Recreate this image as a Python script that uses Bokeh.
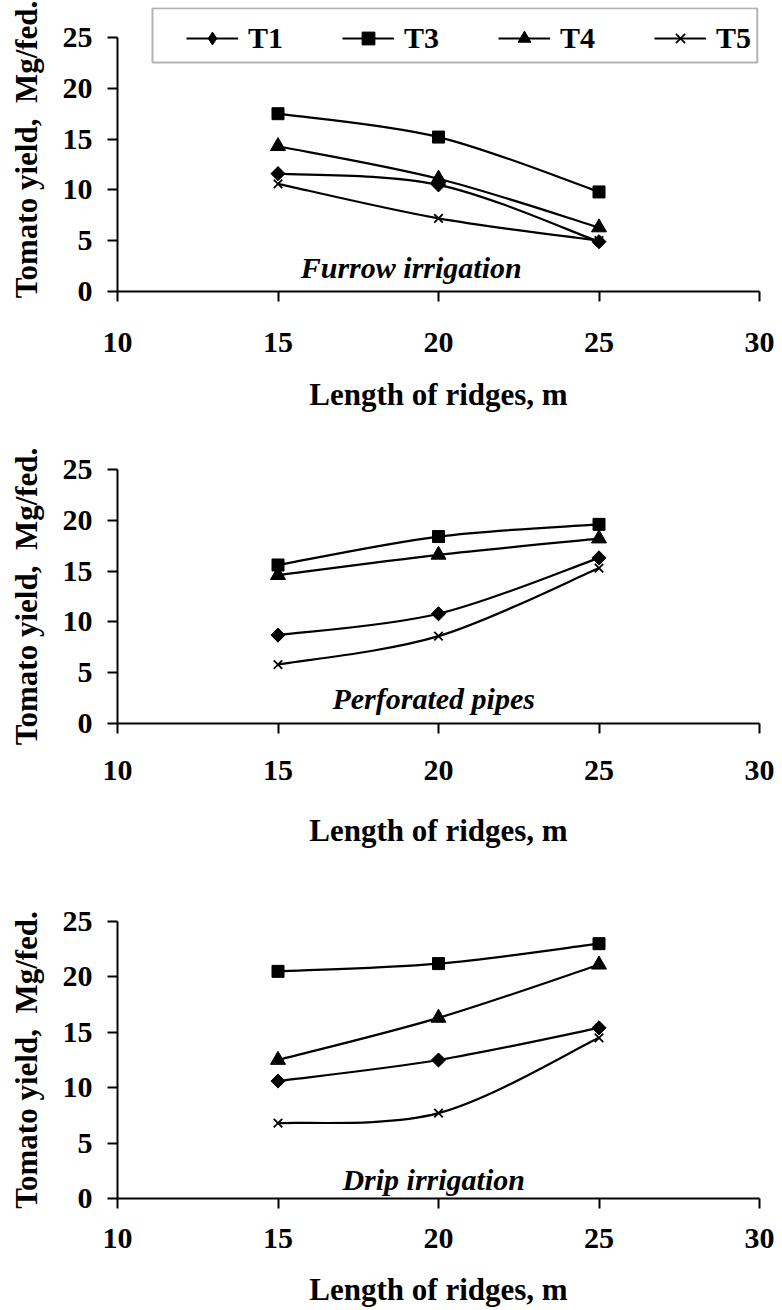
from bokeh.plotting import figure
from bokeh.models import Range1d, Legend, LegendItem, Label, ColumnDataSource, BoxAnnotation
from bokeh.layouts import column
from bokeh.embed import file_html
from bokeh.resources import INLINE
import math

# ---------------- data ----------------
lengths = [15, 20, 25]
x_ticks = [10, 15, 20, 25, 30]
y_ticks = [0, 5, 10, 15, 20, 25]
series_names = ["T1", "T3", "T4", "T5"]

furrow_T1 = [11.6, 10.5, 4.9]
furrow_T3 = [17.5, 15.2, 9.8]
furrow_T4 = [14.3, 11.1, 6.3]
furrow_T5 = [10.6, 7.2, 5.0]

perforated_T1 = [8.7, 10.8, 16.3]
perforated_T3 = [15.6, 18.4, 19.6]
perforated_T4 = [14.6, 16.6, 18.2]
perforated_T5 = [5.8, 8.6, 15.3]

drip_T1 = [10.6, 12.5, 15.4]
drip_T3 = [20.5, 21.2, 23.0]
drip_T4 = [12.5, 16.3, 21.1]
drip_T5 = [6.8, 7.7, 14.5]

panel_titles = ["Furrow irrigation", "Perforated pipes", "Drip irrigation"]

FONT = "Liberation Serif"
# marker, angle, size on the plot
markers = {"T1": ("square", math.pi / 4, 10), "T3": ("square", 0, 12),
           "T4": ("triangle", 0, 15), "T5": ("x", 0, 12)}


def smooth_segments(xs, ys):
    """Bezier control points (Catmull-Rom style) so curve passes through the data points."""
    n = len(xs)
    out = dict(x0=[], y0=[], x1=[], y1=[], cx0=[], cy0=[], cx1=[], cy1=[])
    for i in range(n - 1):
        a = i - 1 if i > 0 else i
        d = i + 2 if i + 2 < n else i + 1
        out["x0"].append(xs[i]); out["y0"].append(ys[i])
        out["x1"].append(xs[i + 1]); out["y1"].append(ys[i + 1])
        out["cx0"].append(xs[i] + (xs[i + 1] - xs[a]) / 6.0)
        out["cy0"].append(ys[i] + (ys[i + 1] - ys[a]) / 6.0)
        out["cx1"].append(xs[i + 1] - (xs[d] - xs[i]) / 6.0)
        out["cy1"].append(ys[i + 1] - (ys[d] - ys[i]) / 6.0)
    return out


def make_panel(series, title, label_xy, height, top, bottom, y_end,
               tick_standoff, title_standoff, legend=False):
    p = figure(width=782, height=height, output_backend="svg", toolbar_location=None,
               x_range=Range1d(10, 30), y_range=Range1d(0, y_end),
               min_border_left=117, min_border_right=23, min_border_top=top,
               min_border_bottom=bottom)
    p.outline_line_color = None
    p.xgrid.visible = False
    p.ygrid.visible = False
    p.background_fill_color = "white"
    p.border_fill_color = "white"

    for ax in (p.xaxis[0], p.yaxis[0]):
        ax.axis_line_color = "black"
        ax.axis_line_width = 2
        ax.major_tick_line_color = "black"
        ax.major_tick_line_width = 2
        ax.major_tick_out = 10
        ax.major_tick_in = 0
        ax.minor_tick_line_color = None
        ax.major_label_text_font = FONT
        ax.major_label_text_font_style = "bold"
        ax.major_label_text_font_size = "30px"
        ax.major_label_text_color = "black"
        ax.axis_label_text_font = FONT
        ax.axis_label_text_font_style = "bold"
        ax.axis_label_text_font_size = "31px"
        ax.axis_label_text_color = "black"
    p.xaxis.ticker = x_ticks
    p.yaxis.ticker = y_ticks
    p.yaxis.bounds = (0, 25)
    p.xaxis.axis_label = "Length of ridges, m"
    p.yaxis.axis_label = "Tomato yield,\u00a0 Mg/fed."
    p.xaxis.major_label_standoff = tick_standoff
    p.xaxis.axis_label_standoff = title_standoff
    p.yaxis.major_label_standoff = 15
    p.yaxis.axis_label_standoff = 16

    if legend:
        # legend frame (drawn first, so that the legend entries sit on it)
        p.add_layout(BoxAnnotation(left=11.09, right=29.93, bottom=22.54, top=y_end - 0.08,
                                   fill_alpha=0, line_color="black", line_width=2,
                                   level="annotation"))

    items = []
    for name in series_names:
        ys = series[name]
        seg = smooth_segments(lengths, ys)
        br = p.bezier(x0="x0", y0="y0", x1="x1", y1="y1", cx0="cx0", cy0="cy0",
                      cx1="cx1", cy1="cy1", source=ColumnDataSource(seg),
                      line_color="black", line_width=2.2)
        mk, ang, sz = markers[name]
        lw = 1.8 if mk == "x" else 1
        lr = None
        if name == "T1":
            # plain diamond (lies fully under the rotated square) -> used for the legend key
            lr = p.scatter(lengths, ys, marker="diamond", size=12,
                           fill_color="black", line_color="black", line_width=1)
        sr = p.scatter(lengths, ys, marker=mk, angle=ang, size=sz,
                       fill_color="black", line_color="black", line_width=lw)
        items.append(LegendItem(label=name, renderers=[br, lr if lr is not None else sr]))

    p.add_layout(Label(x=label_xy[0], y=label_xy[1], text=title, text_align="center",
                       text_baseline="middle", text_font=FONT,
                       text_font_style="bold italic", text_font_size="30px",
                       text_color="black"))

    if legend:
        lg = Legend(items=items, orientation="horizontal", location=(69, 236),
                    glyph_width=52, glyph_height=32, label_standoff=10, spacing=59,
                    padding=0, margin=0, label_height=32,
                    label_text_font=FONT, label_text_font_style="bold",
                    label_text_font_size="30px", label_text_color="black",
                    border_line_color=None, background_fill_alpha=0.0)
        p.add_layout(lg)
    return p


# panel 1: frame extends up to the legend top; the y axis line stops at 25
p1 = make_panel({"T1": furrow_T1, "T3": furrow_T3, "T4": furrow_T4, "T5": furrow_T5},
                panel_titles[0], (19.15, 2.4), 432, 7, 141, 25 * 284 / 254, 31, 22, legend=True)
p2 = make_panel({"T1": perforated_T1, "T3": perforated_T3, "T4": perforated_T4, "T5": perforated_T5},
                panel_titles[1], (19.85, 2.5), 432, 37, 141, 25, 27, 30)
p3 = make_panel({"T1": drip_T1, "T3": drip_T3, "T4": drip_T4, "T5": drip_T5},
                panel_titles[2], (19.85, 1.7), 446, 57, 112, 25, 20, 21)

layout = column(p1, p2, p3, spacing=0)
open("out.html", "w").write(file_html(layout, INLINE))
